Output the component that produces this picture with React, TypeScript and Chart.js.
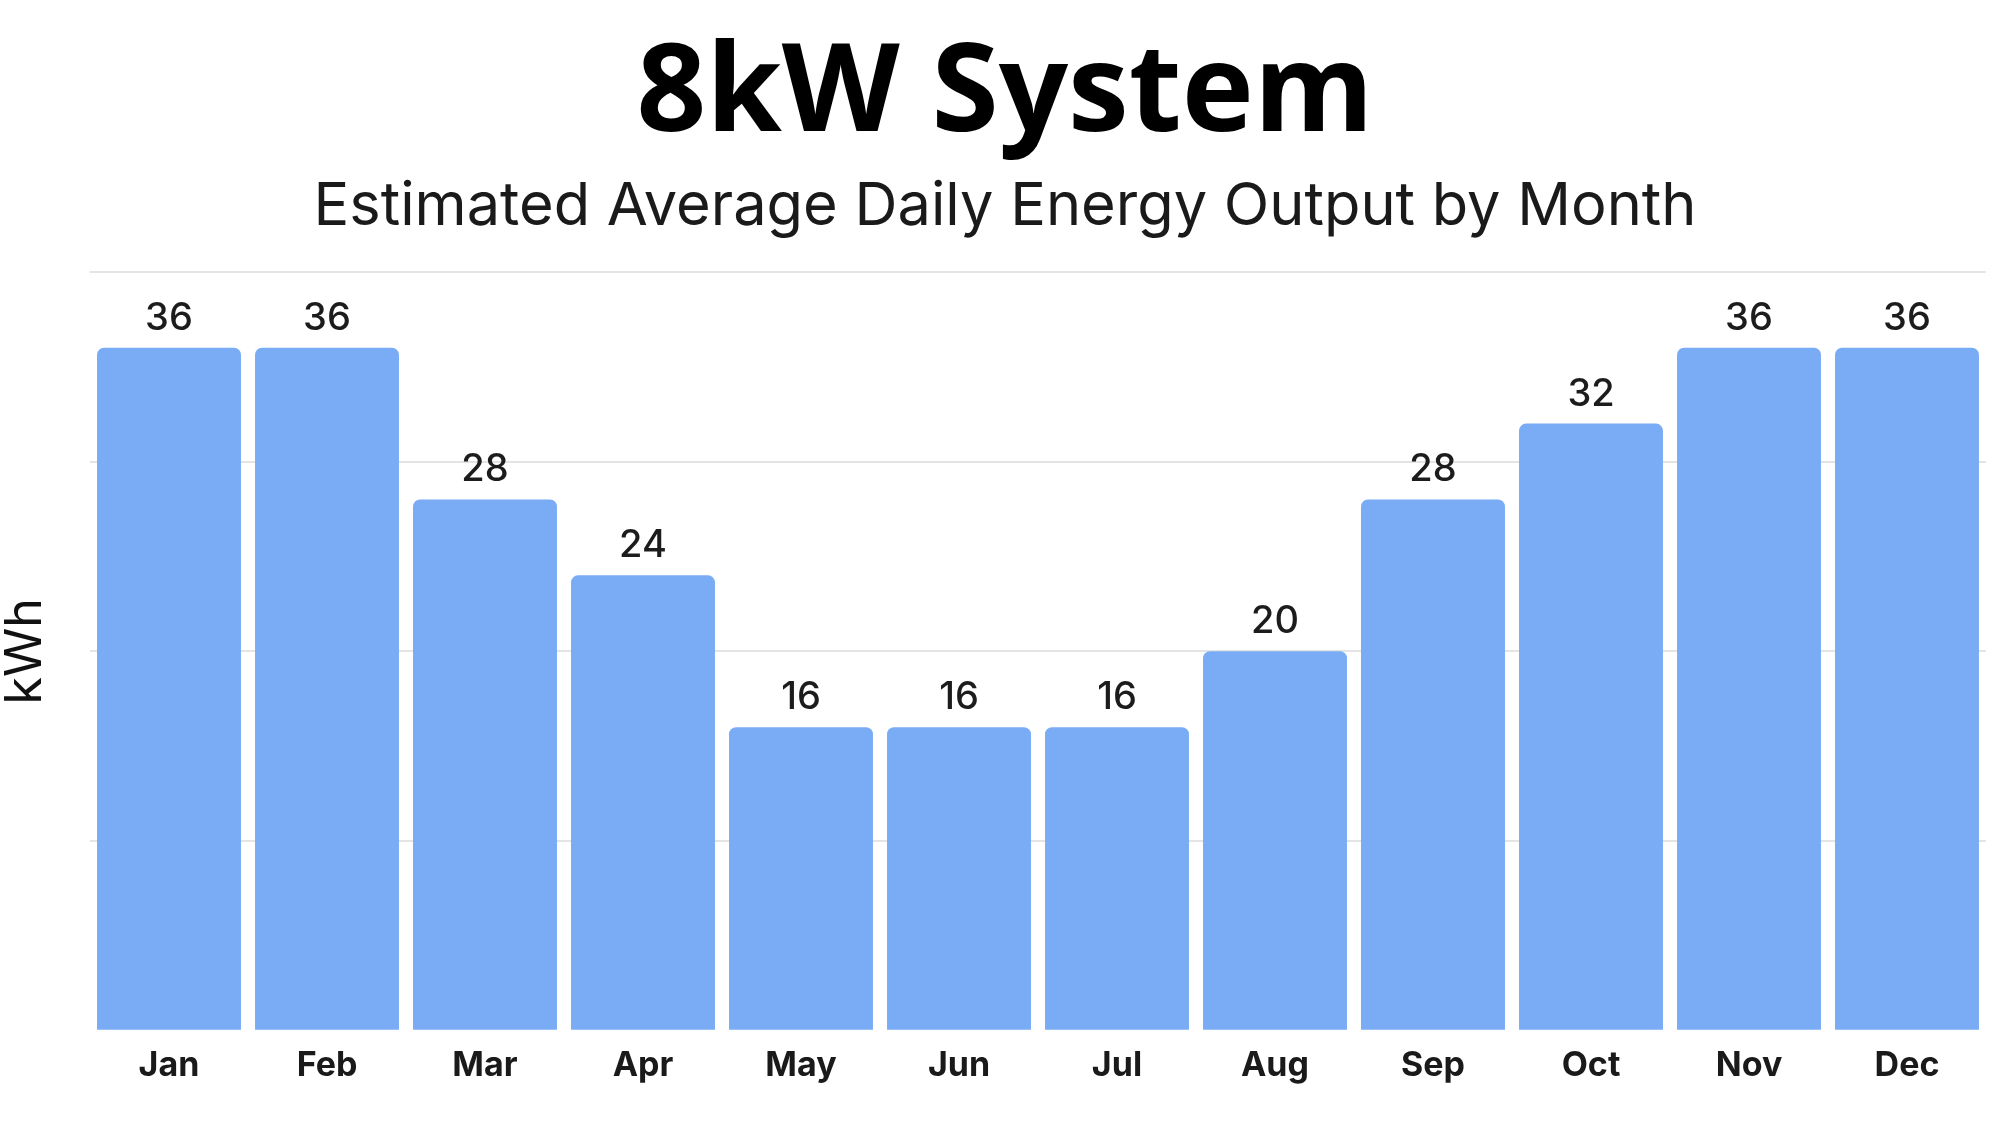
import React, { useEffect, useRef } from "react";
import { Chart, registerables } from "chart.js";

Chart.register(...registerables);

const titleText = "8kW System";
const subtitleText = "Estimated Average Daily Energy Output by Month";
const yAxisTitle = "kWh";
const months = ["Jan", "Feb", "Mar", "Apr", "May", "Jun", "Jul", "Aug", "Sep", "Oct", "Nov", "Dec"];
const dailyKWh = [36, 36, 28, 24, 16, 16, 16, 20, 28, 32, 36, 36];
const yMin = 0;
const yMax = 40;
const yStep = 10;

const barColor = "rgb(121,172,245)";

const valueLabelPlugin = {
  id: "valueLabels",
  afterDatasetsDraw(chart: any) {
    const ctx = chart.ctx;
    ctx.save();
    ctx.font = "500 38px Inter";
    ctx.fillStyle = "#1c1c1c";
    ctx.textAlign = "center";
    ctx.textBaseline = "alphabetic";
    chart.data.datasets.forEach((ds: any, di: number) => {
      const meta = chart.getDatasetMeta(di);
      meta.data.forEach((el: any, i: number) => {
        ctx.fillText(String(ds.data[i]), el.x, el.y - 18);
      });
    });
    ctx.restore();
  },
};

export default function App() {
  const ref = useRef<HTMLCanvasElement>(null);
  useEffect(() => {
    if (!ref.current) return;
    const chart = new Chart(ref.current, {
      type: "bar",
      data: {
        labels: months,
        datasets: [
          {
            data: dailyKWh,
            backgroundColor: barColor,
            borderRadius: { topLeft: 7, topRight: 7, bottomLeft: 0, bottomRight: 0 },
            borderSkipped: "bottom",
            barPercentage: 0.911,
            categoryPercentage: 1,
          },
        ],
      },
      options: {
        responsive: false,
        animation: false,
        devicePixelRatio: 1,
        layout: { padding: { top: 0, left: 24, right: 14, bottom: 32.5 } },
        plugins: {
          legend: { display: false },
          tooltip: { enabled: false },
          title: {
            display: true,
            text: titleText,
            color: "#000",
            font: { family: "'Open Sans'", weight: "bold", size: 122, lineHeight: 1.2 },
            padding: { top: 23, bottom: 0 },
          },
          subtitle: {
            display: true,
            text: subtitleText,
            color: "#1a1a1a",
            font: { family: "Inter", weight: "normal", size: 59.5, lineHeight: 1.2 },
            padding: { top: 2, bottom: 29 },
          },
        },
        scales: {
          x: {
            grid: { display: false },
            border: { display: false },
            ticks: {
              color: "#1a1a1a",
              font: { family: "Inter", weight: "bold", size: 34, lineHeight: 1.2 },
              padding: 6.5,
            },
          },
          y: {
            min: yMin,
            max: yMax,
            border: { display: false },
            grid: {
              color: (c: any) => (c.tick && c.tick.value === 0 ? "rgba(0,0,0,0)" : "#e4e4e4"),
              lineWidth: 2,
              drawTicks: false,
            },
            ticks: { display: false, stepSize: yStep },
            title: {
              display: true,
              text: yAxisTitle,
              color: "#111",
              font: { family: "Inter", weight: "normal", size: 50, lineHeight: 1 },
              padding: { top: -23, bottom: 39 },
            },
          },
        },
      },
      plugins: [valueLabelPlugin],
    });
    return () => chart.destroy();
  }, []);
  return (
    <div style={{ position: "absolute", left: 0, top: 0, width: 2000, height: 1125, background: "#fff" }}>
      <canvas ref={ref} width={2000} height={1125} style={{ display: "block" }} />
    </div>
  );
}
